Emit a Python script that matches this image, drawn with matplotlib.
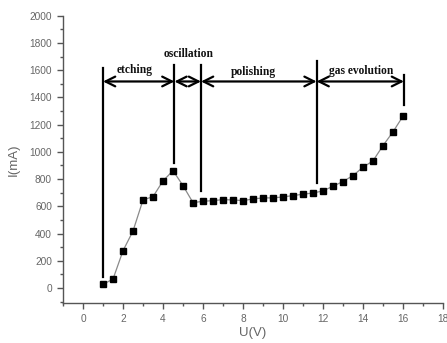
import matplotlib
matplotlib.use("Agg")
import matplotlib.pyplot as plt
from matplotlib.ticker import MultipleLocator

# Datos de la curva I-U
voltage = [1.0, 1.5, 2.0, 2.5, 3.0, 3.5, 4.0, 4.5, 5.0, 5.5, 6.0, 6.5, 7.0, 7.5,
           8.0, 8.5, 9.0, 9.5, 10.0, 10.5, 11.0, 11.5, 12.0, 12.5, 13.0, 13.5,
           14.0, 14.5, 15.0, 15.5, 16.0]
current = [27, 66, 274, 419, 647, 671, 787, 862, 752, 627, 637, 642, 649, 647,
           642, 654, 662, 662, 669, 679, 689, 698, 713, 748, 782, 826,
           887, 934, 1046, 1147, 1262]

# Límites de las regiones (V) y extremos de las líneas verticales (mA)
boundaries = [1.0, 4.57, 5.9, 11.68, 16.05]
line_bottom = [83, 919, 715, 770, 1345]
line_top = [1615, 1640, 1640, 1664, 1566]
arrow_level = 1517

# Etiquetas de las regiones
region_labels = ["etching", "oscillation", "polishing", "gas evolution"]
label_x = [2.6, 5.3, 8.5, 13.9]
label_y = [1600, 1720, 1590, 1596]

grey = "#666666"

fig = plt.figure(figsize=(4.47, 3.43), dpi=100)
ax = fig.add_axes([0.141, 0.1166, 0.850, 0.8376])

ax.plot(voltage, current, color="#8a8a8a", linewidth=0.9, zorder=2)
ax.plot(voltage, current, linestyle="none", marker="s", markersize=3.8,
        color="black", zorder=3)

# Líneas verticales
for b, lo, hi in zip(boundaries, line_bottom, line_top):
    ax.plot([b, b], [lo, hi], color="black", linewidth=1.6, zorder=4)

# Flechas dobles entre límites
for a, b in zip(boundaries[:-1], boundaries[1:]):
    ax.annotate("", xy=(b, arrow_level), xytext=(a, arrow_level),
                arrowprops=dict(arrowstyle="<->,head_length=0.7,head_width=0.35",
                                color="black", linewidth=1.6,
                                shrinkA=0, shrinkB=0, mutation_scale=10),
                zorder=5)

for txt, x, y in zip(region_labels, label_x, label_y):
    ax.text(x, y, txt, ha="center", va="center", fontsize=8.3,
            fontweight="bold", family="Liberation Serif", color="#111111")

ax.set_xlim(-1, 18)
ax.set_ylim(-110, 2000)
ax.xaxis.set_major_locator(MultipleLocator(2))
ax.xaxis.set_minor_locator(MultipleLocator(1))
ax.yaxis.set_major_locator(MultipleLocator(200))
ax.yaxis.set_minor_locator(MultipleLocator(100))

for s in ["top", "right"]:
    ax.spines[s].set_visible(False)
for s in ["left", "bottom"]:
    ax.spines[s].set_color("#555555")
    ax.spines[s].set_linewidth(1.0)

ax.tick_params(which="major", direction="out", length=4, width=1,
               color="#555555", labelsize=7.3, labelcolor=grey, pad=4)
ax.tick_params(which="minor", direction="out", length=2.5, width=1,
               color="#555555")
for lab in ax.get_xticklabels() + ax.get_yticklabels():
    lab.set_family("Liberation Sans")

ax.set_xlabel("U(V)", fontsize=9.5, color=grey, family="Liberation Sans")
ax.set_ylabel("I(mA)", fontsize=9.5, color=grey, family="Liberation Sans")
ax.xaxis.set_label_coords(0.5, -0.083)
ax.yaxis.set_label_coords(-0.113, 0.5)

fig.savefig("out.png", dpi=100)
